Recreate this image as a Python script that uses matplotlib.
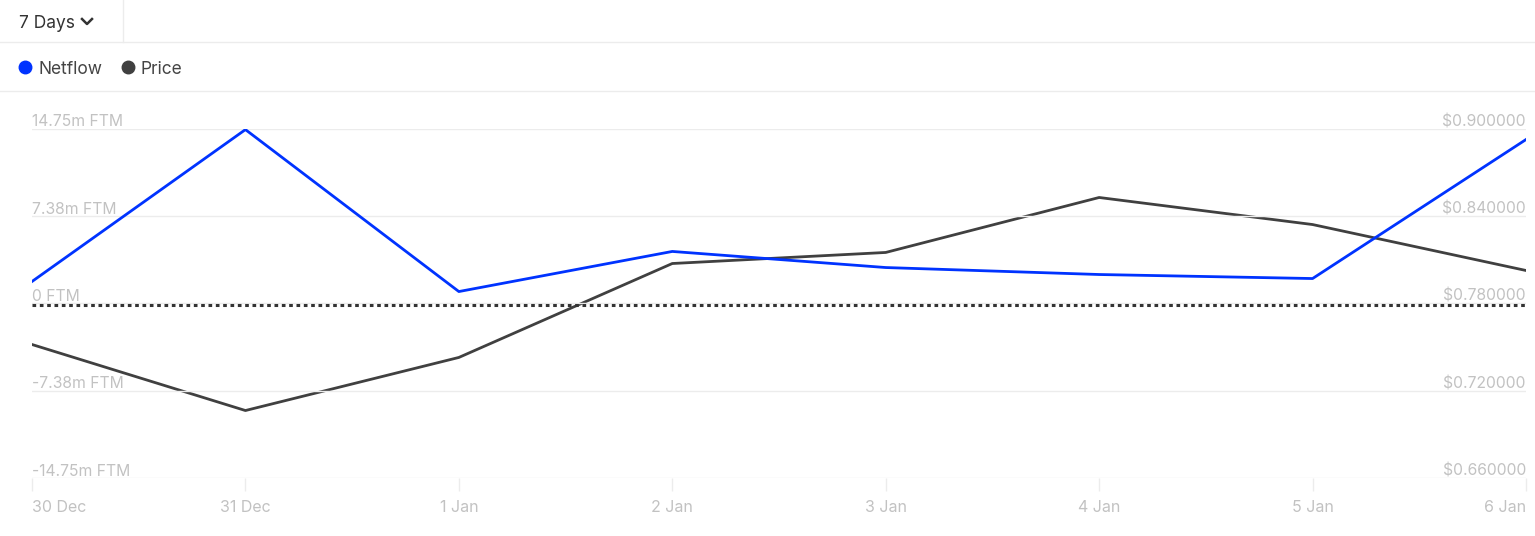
import matplotlib
matplotlib.use('Agg')
import matplotlib.pyplot as plt
import matplotlib.transforms as mtransforms
from matplotlib.lines import Line2D

plt.rcParams['font.family'] = ['Inter', 'DejaVu Sans']

dates = ['30 Dec', '31 Dec', '1 Jan', '2 Jan', '3 Jan', '4 Jan', '5 Jan', '6 Jan']
netflow = [1.86, 14.70, 1.01, 4.40, 3.04, 2.45, 2.11, 13.86]   # million FTM
price = [0.7518, 0.7064, 0.7429, 0.8075, 0.8151, 0.8529, 0.8343, 0.8027]
left_ticks = [-14.75, -7.38, 0, 7.38, 14.75]
left_labels = ['-14.75m FTM', '-7.38m FTM', '0 FTM', '7.38m FTM', '14.75m FTM']
right_ticks = [0.66, 0.72, 0.78, 0.84, 0.90]

W, H = 1535, 536
fig = plt.figure(figsize=(W / 100, H / 100), dpi=100)
fig.patch.set_facecolor('white')

x0, x1, ytop, ybot = 32, 1526, 129, 478
ax = fig.add_axes([x0 / W, 1 - ybot / H, (x1 - x0) / W, (ybot - ytop) / H])
ax2 = ax.twinx()

xs = list(range(len(dates)))
ax.set_xlim(0, len(dates) - 1)
ax.set_ylim(-14.75, 14.75)
ax2.set_ylim(0.66, 0.90)

grid_c = '#ececec'
lab_c = '#c2c2c2'
for t in left_ticks:
    ax.axhline(t, color=grid_c, lw=1, zorder=0)
# dotted zero line sits a hair below the zero grid line
ax.axhline(-0.15, color='#333333', lw=2.2, ls=(0, (1.2, 1.2)), zorder=3)

ax2.plot(xs, price, color='#404040', lw=2, zorder=4)
ax.plot(xs, netflow, color='#0033ff', lw=2, zorder=5)
ax.set_zorder(ax2.get_zorder() + 1)
ax.patch.set_visible(False)

up = mtransforms.ScaledTranslation(0, 2.5 / 100, fig.dpi_scale_trans)
tl = mtransforms.blended_transform_factory(ax.transAxes, ax.transData) + up
for t, s in zip(left_ticks, left_labels):
    ax.text(0, t, s, transform=tl, ha='left', va='baseline', color=lab_c, fontsize=11.3)
tr = mtransforms.blended_transform_factory(ax2.transAxes, ax2.transData) + up
for t in right_ticks:
    ax2.text(1, t, '$%.6f' % t, transform=tr, ha='right', va='baseline', color=lab_c, fontsize=11.3)

for a in (ax, ax2):
    for sp in a.spines.values():
        sp.set_visible(False)
ax2.set_yticks([])
ax.set_yticks([])
ax.set_xticks(xs)
ax.set_xticklabels(dates)
ax.tick_params(axis='x', direction='out', length=9, width=1, color=grid_c, labelcolor=lab_c,
               labelsize=11.5, pad=7)
labels = ax.get_xticklabels()
labels[0].set_ha('left')
labels[-1].set_ha('right')

# header
fig.add_artist(Line2D([0, 1], [1 - 42 / H, 1 - 42 / H], color='#ececec', lw=1))
fig.add_artist(Line2D([0, 1], [1 - 91 / H, 1 - 91 / H], color='#ececec', lw=1))
fig.add_artist(Line2D([123 / W, 123 / W], [1, 1 - 42 / H], color='#ececec', lw=1))
fig.text(19 / W, 1 - 22 / H, '7 Days', ha='left', va='center_baseline', fontsize=12.5, color='#333333')
fig.add_artist(Line2D([82 / W, 87 / W, 92 / W], [1 - 19 / H, 1 - 24 / H, 1 - 19 / H],
                      color='#333333', lw=1.8))

fig.add_artist(Line2D([25 / W], [1 - 67 / H], marker='o', ms=9, color='#0033ff', lw=0))
fig.text(38 / W, 1 - 67 / H, 'Netflow', ha='left', va='center_baseline', fontsize=12.5, color='#444444')
fig.add_artist(Line2D([128 / W], [1 - 67 / H], marker='o', ms=9, color='#404040', lw=0))
fig.text(141 / W, 1 - 67 / H, 'Price', ha='left', va='center_baseline', fontsize=12.5, color='#444444')

fig.savefig('out.png', dpi=100)
